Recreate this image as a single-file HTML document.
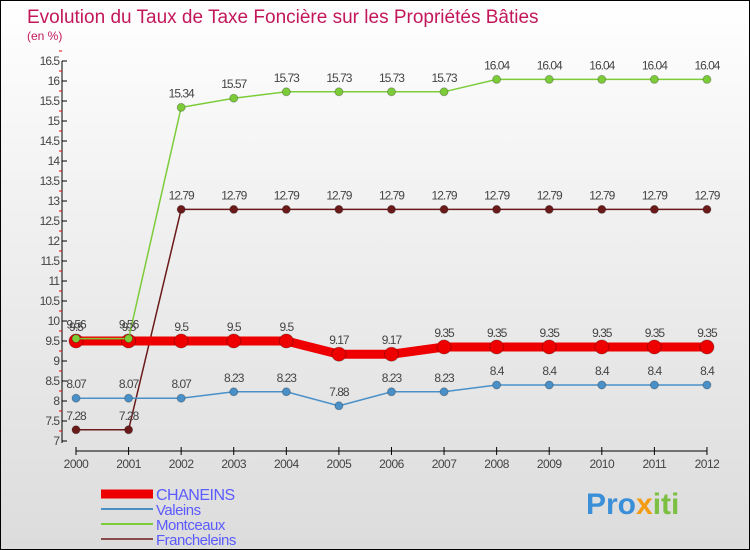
<!DOCTYPE html>
<html><head><meta charset="utf-8"><style>
body{margin:0}
#c{width:750px;height:550px;position:relative;box-sizing:border-box;border:1px solid #000;background:linear-gradient(#fff 0%,#f0f0f0 40%,#dcdcdc 100%);font-family:"Liberation Sans",sans-serif;overflow:hidden}
</style></head><body>
<div id="c">
<svg id="s" width="750" height="550" style="position:absolute;left:0;top:0">
<text x="26" y="22" font-size="19" fill="#c2185b">Evolution du Taux de Taxe Foncière sur les Propriétés Bâties</text>
<text x="26" y="39" font-size="12" fill="#c2185b">(en %)</text>
<text x="585" y="513" font-size="30" font-weight="bold" fill="#3a8fd8">Pro<tspan fill="#f39c12">x</tspan><tspan fill="#7bc043">iti</tspan></text>
</svg>
</div>
<script>
const years=[2000,2001,2002,2003,2004,2005,2006,2007,2008,2009,2010,2011,2012];
const chaneins=[9.5,9.5,9.5,9.5,9.5,9.17,9.17,9.35,9.35,9.35,9.35,9.35,9.35];
const valeins=[8.07,8.07,8.07,8.23,8.23,7.88,8.23,8.23,8.4,8.4,8.4,8.4,8.4];
const montceaux=[9.56,9.56,15.34,15.57,15.73,15.73,15.73,15.73,16.04,16.04,16.04,16.04,16.04];
const francheleins=[7.28,7.28,12.79,12.79,12.79,12.79,12.79,12.79,12.79,12.79,12.79,12.79,12.79];
const yTicks=[7,7.5,8,8.5,9,9.5,10,10.5,11,11.5,12,12.5,13,13.5,14,14.5,15,15.5,16,16.5];
const NS="http://www.w3.org/2000/svg",s=document.getElementById('s');
const X=i=>75+i*52.58, Y=v=>440-(v-7)*40;
function el(t,a,p){const e=document.createElementNS(NS,t);for(const k in a)e.setAttribute(k,a[k]);(p||s).appendChild(e);return e;}
// axes
let ax=el('line',{x1:61,y1:Y(16.5),x2:61,y2:442,stroke:'#000'});

let xa=el('line',{x1:75,y1:450,x2:X(12),y2:450,stroke:'#000'});

yTicks.forEach(v=>{el('line',{x1:61,y1:Y(v),x2:66,y2:Y(v),stroke:'#000'});
 el('line',{x1:58,y1:Y(v+0.25),x2:61,y2:Y(v+0.25),stroke:'#e00'});
 const t=el('text',{x:58,y:Y(v)+4,'text-anchor':'end','font-size':12,fill:'#444','letter-spacing':'-1'});t.textContent=v;
 });
years.forEach((y,i)=>{el('line',{x1:X(i),y1:446,x2:X(i),y2:454,stroke:'#000'});
 const t=el('text',{x:X(i),y:467,'text-anchor':'middle','font-size':12,fill:'#444','letter-spacing':'-0.5'});t.textContent=y;
 });
function series(d,col,w,r,name){
 const g=el('g',{});
 el('polyline',{points:d.map((v,i)=>X(i)+','+Y(v)).join(' '),fill:'none',stroke:col,'stroke-width':w},g);
 d.forEach((v,i)=>{const c=el('circle',{cx:X(i),cy:Y(v),r:r,fill:col,stroke:'rgba(0,0,0,0.25)'},g);
  
  const t=el('text',{x:X(i),y:Y(v)-10,'text-anchor':'middle','font-size':12,fill:'#444','letter-spacing':'-1'},g);t.textContent=v;});
}
series(francheleins,'#6b1a1a',1.5,4,'francheleins');
series(valeins,'#4a90c8',1.5,4,'valeins');
series(chaneins,'#e00',9,7,'chaneins');
series(montceaux,'#7ccc3a',1.5,4,'montceaux');
const leg=[['CHANEINS','#e00',9],['Valeins','#4a90c8',2],['Montceaux','#7ccc3a',2],['Francheleins','#8b4a4a',2]];
leg.forEach((l,i)=>{const y=493+i*15;const g=el('g',{});
 el('line',{x1:100,y1:y,x2:152,y2:y,stroke:l[1],'stroke-width':l[2]},g);
 const t=el('text',{x:155,y:y+6,'font-size':i==0?16:15,fill:'#5b5bff','letter-spacing':'-0.5'},g);t.textContent=l[0];});
</script>
</body></html>
